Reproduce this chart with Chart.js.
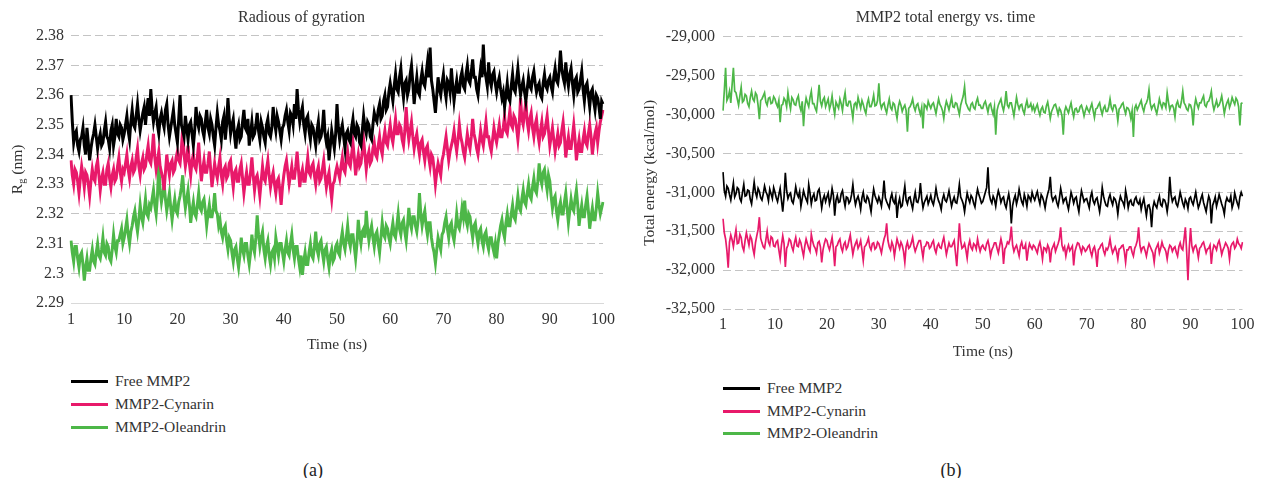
<!DOCTYPE html>
<html>
<head>
<meta charset="utf-8">
<script src="https://cdn.jsdelivr.net/npm/chart.js@4.4.1/dist/chart.umd.min.js"></script>
<style>
body { margin: 0; background: #fff; font-family: 'Liberation Serif', 'Times New Roman', serif; color: #333; }
#page { position: relative; width: 1261px; height: 478px; overflow: hidden; }
canvas { position: absolute; top: 0; }
#chartA { left: 0; }
#chartB { left: 640px; }
.legend-text { position: absolute; font-family: 'Liberation Serif', serif; font-size: 15.5px; line-height: 20px; white-space: nowrap; color: #333; }
.legend-line { position: absolute; height: 3px; width: 37px; }
.caption { position: absolute; width: 40px; text-align: center; font-family: 'Liberation Serif', serif; font-size: 18px; line-height: 22px; color: #222; }
</style>
</head>
<body>
<div id="page">
  <canvas id="chartA" width="640" height="360"></canvas>
  <canvas id="chartB" width="621" height="370"></canvas>
</div>
<script>
// time axis: 0.25 ns sampling, first category shown as "1" like the original
const time = Array.from({length: 401}, (_, i) => i / 4);
const xTickLabels = ['1', '10', '20', '30', '40', '50', '60', '70', '80', '90', '100'];

const seriesNames = ['Free MMP2', 'MMP2-Cynarin', 'MMP2-Oleandrin'];
const seriesColors = ['#000000', '#E8196A', '#4DB748'];

// (a) radius of gyration, nm
const rgFree = [
  2.360, 2.351, 2.344, 2.347, 2.348, 2.343, 2.341, 2.345, 2.346, 2.349, 2.343, 2.340, 2.349, 2.344, 2.338, 2.342, 2.345, 2.347, 2.350, 2.346,
  2.342, 2.345, 2.347, 2.343, 2.344, 2.348, 2.351, 2.346, 2.345, 2.342, 2.348, 2.350, 2.343, 2.346, 2.352, 2.347, 2.346, 2.350, 2.349, 2.345,
  2.347, 2.350, 2.353, 2.348, 2.345, 2.351, 2.355, 2.350, 2.349, 2.353, 2.357, 2.352, 2.348, 2.351, 2.354, 2.356, 2.350, 2.355, 2.359, 2.353,
  2.362, 2.355, 2.351, 2.354, 2.356, 2.350, 2.347, 2.352, 2.354, 2.351, 2.349, 2.355, 2.357, 2.350, 2.346, 2.349, 2.352, 2.355, 2.350, 2.347,
  2.344, 2.352, 2.360, 2.350, 2.348, 2.346, 2.353, 2.349, 2.345, 2.350, 2.351, 2.347, 2.343, 2.348, 2.356, 2.351, 2.349, 2.353, 2.352, 2.348,
  2.346, 2.351, 2.355, 2.349, 2.347, 2.352, 2.350, 2.346, 2.343, 2.349, 2.354, 2.350, 2.348, 2.345, 2.351, 2.353, 2.345, 2.350, 2.359, 2.352,
  2.347, 2.350, 2.352, 2.346, 2.342, 2.348, 2.350, 2.345, 2.346, 2.351, 2.355, 2.349, 2.348, 2.352, 2.343, 2.347, 2.351, 2.346, 2.347, 2.350,
  2.354, 2.348, 2.345, 2.351, 2.349, 2.346, 2.344, 2.350, 2.352, 2.347, 2.346, 2.349, 2.356, 2.351, 2.348, 2.353, 2.351, 2.348, 2.345, 2.349,
  2.350, 2.353, 2.355, 2.351, 2.348, 2.354, 2.353, 2.350, 2.357, 2.352, 2.362, 2.355, 2.351, 2.354, 2.356, 2.350, 2.347, 2.352, 2.353, 2.348,
  2.345, 2.350, 2.349, 2.346, 2.343, 2.348, 2.351, 2.345, 2.346, 2.349, 2.355, 2.347, 2.344, 2.346, 2.338, 2.343, 2.348, 2.345, 2.342, 2.347,
  2.357, 2.349, 2.345, 2.348, 2.350, 2.346, 2.342, 2.347, 2.348, 2.345, 2.344, 2.349, 2.352, 2.347, 2.346, 2.350, 2.349, 2.344, 2.343, 2.348,
  2.353, 2.349, 2.347, 2.351, 2.350, 2.346, 2.345, 2.350, 2.354, 2.352, 2.351, 2.355, 2.357, 2.352, 2.353, 2.358, 2.360, 2.355, 2.356, 2.361,
  2.364, 2.361, 2.358, 2.363, 2.367, 2.362, 2.361, 2.366, 2.369, 2.363, 2.359, 2.364, 2.365, 2.360, 2.362, 2.367, 2.370, 2.364, 2.357, 2.362,
  2.366, 2.361, 2.360, 2.365, 2.368, 2.364, 2.363, 2.367, 2.371, 2.366, 2.376, 2.365, 2.362, 2.358, 2.354, 2.360, 2.366, 2.362, 2.360, 2.364,
  2.367, 2.362, 2.359, 2.365, 2.364, 2.361, 2.369, 2.363, 2.358, 2.362, 2.365, 2.361, 2.361, 2.366, 2.368, 2.363, 2.362, 2.367, 2.370, 2.365,
  2.364, 2.368, 2.372, 2.366, 2.366, 2.362, 2.360, 2.365, 2.369, 2.366, 2.377, 2.368, 2.366, 2.363, 2.371, 2.365, 2.363, 2.367, 2.368, 2.364,
  2.361, 2.364, 2.366, 2.362, 2.359, 2.361, 2.356, 2.360, 2.364, 2.359, 2.358, 2.363, 2.367, 2.362, 2.361, 2.365, 2.369, 2.364, 2.360, 2.363,
  2.365, 2.361, 2.358, 2.362, 2.366, 2.363, 2.362, 2.366, 2.368, 2.364, 2.361, 2.363, 2.364, 2.360, 2.359, 2.364, 2.367, 2.363, 2.362, 2.365,
  2.366, 2.363, 2.361, 2.366, 2.369, 2.365, 2.364, 2.368, 2.375, 2.369, 2.366, 2.364, 2.371, 2.366, 2.363, 2.367, 2.369, 2.364, 2.360, 2.365,
  2.366, 2.361, 2.362, 2.365, 2.368, 2.362, 2.358, 2.363, 2.364, 2.360, 2.356, 2.361, 2.362, 2.358, 2.355, 2.360, 2.359, 2.356, 2.352, 2.358,
  2.357
];
const rgCynarin = [
  2.338, 2.333, 2.330, 2.335, 2.334, 2.331, 2.327, 2.332, 2.336, 2.333, 2.329, 2.334, 2.333, 2.330, 2.326, 2.331, 2.335, 2.332, 2.331, 2.336,
  2.338, 2.333, 2.328, 2.332, 2.334, 2.330, 2.330, 2.335, 2.337, 2.332, 2.329, 2.333, 2.335, 2.331, 2.332, 2.336, 2.339, 2.334, 2.331, 2.335,
  2.334, 2.337, 2.340, 2.335, 2.332, 2.336, 2.338, 2.334, 2.335, 2.339, 2.342, 2.336, 2.333, 2.337, 2.339, 2.335, 2.336, 2.340, 2.343, 2.338,
  2.337, 2.341, 2.347, 2.339, 2.335, 2.338, 2.341, 2.336, 2.334, 2.332, 2.328, 2.334, 2.340, 2.336, 2.333, 2.337, 2.338, 2.334, 2.335, 2.339,
  2.341, 2.338, 2.337, 2.342, 2.349, 2.340, 2.336, 2.339, 2.343, 2.337, 2.333, 2.338, 2.340, 2.336, 2.335, 2.339, 2.344, 2.337, 2.331, 2.335,
  2.338, 2.334, 2.334, 2.337, 2.341, 2.335, 2.329, 2.333, 2.337, 2.334, 2.332, 2.336, 2.339, 2.333, 2.330, 2.335, 2.336, 2.332, 2.333, 2.337,
  2.338, 2.333, 2.329, 2.334, 2.335, 2.331, 2.331, 2.335, 2.337, 2.332, 2.327, 2.331, 2.334, 2.330, 2.330, 2.334, 2.339, 2.333, 2.328, 2.332,
  2.333, 2.330, 2.326, 2.331, 2.336, 2.332, 2.331, 2.335, 2.338, 2.333, 2.329, 2.332, 2.334, 2.330, 2.327, 2.331, 2.332, 2.328, 2.323, 2.329,
  2.333, 2.336, 2.338, 2.334, 2.330, 2.333, 2.336, 2.332, 2.332, 2.336, 2.341, 2.335, 2.329, 2.333, 2.335, 2.331, 2.331, 2.335, 2.339, 2.334,
  2.333, 2.336, 2.337, 2.333, 2.330, 2.334, 2.336, 2.331, 2.332, 2.335, 2.338, 2.333, 2.329, 2.332, 2.334, 2.329, 2.325, 2.330, 2.331, 2.334,
  2.336, 2.334, 2.332, 2.336, 2.339, 2.335, 2.334, 2.338, 2.341, 2.337, 2.336, 2.340, 2.344, 2.339, 2.333, 2.337, 2.340, 2.336, 2.337, 2.341,
  2.345, 2.340, 2.335, 2.339, 2.341, 2.337, 2.338, 2.342, 2.344, 2.340, 2.339, 2.343, 2.346, 2.342, 2.340, 2.345, 2.348, 2.344, 2.343, 2.347,
  2.350, 2.346, 2.344, 2.348, 2.352, 2.347, 2.347, 2.350, 2.349, 2.345, 2.343, 2.348, 2.356, 2.349, 2.345, 2.348, 2.351, 2.346, 2.342, 2.345,
  2.347, 2.343, 2.340, 2.344, 2.345, 2.341, 2.338, 2.342, 2.343, 2.339, 2.336, 2.340, 2.339, 2.335, 2.330, 2.334, 2.337, 2.335, 2.333, 2.338,
  2.340, 2.343, 2.346, 2.342, 2.338, 2.341, 2.343, 2.345, 2.348, 2.344, 2.341, 2.345, 2.350, 2.346, 2.344, 2.341, 2.339, 2.343, 2.347, 2.344,
  2.342, 2.346, 2.352, 2.347, 2.345, 2.342, 2.340, 2.344, 2.348, 2.345, 2.343, 2.347, 2.351, 2.346, 2.346, 2.343, 2.341, 2.345, 2.349, 2.346,
  2.344, 2.347, 2.350, 2.346, 2.346, 2.349, 2.353, 2.348, 2.347, 2.351, 2.355, 2.350, 2.349, 2.353, 2.352, 2.349, 2.345, 2.350, 2.359, 2.352,
  2.350, 2.354, 2.358, 2.351, 2.348, 2.352, 2.354, 2.349, 2.346, 2.350, 2.352, 2.347, 2.344, 2.348, 2.351, 2.346, 2.347, 2.350, 2.353, 2.348,
  2.343, 2.346, 2.349, 2.345, 2.341, 2.344, 2.347, 2.343, 2.344, 2.348, 2.351, 2.346, 2.339, 2.343, 2.346, 2.342, 2.342, 2.346, 2.350, 2.345,
  2.338, 2.342, 2.345, 2.341, 2.341, 2.345, 2.348, 2.344, 2.343, 2.347, 2.350, 2.346, 2.340, 2.344, 2.347, 2.349, 2.344, 2.348, 2.351, 2.353,
  2.355
];
const rgOleandrin = [
  2.311, 2.307, 2.304, 2.309, 2.309, 2.305, 2.302, 2.306, 2.307, 2.303, 2.2975, 2.302, 2.305, 2.301, 2.301, 2.305, 2.308, 2.304, 2.303, 2.307,
  2.310, 2.306, 2.305, 2.308, 2.312, 2.307, 2.306, 2.310, 2.309, 2.305, 2.304, 2.308, 2.313, 2.309, 2.307, 2.311, 2.311, 2.313, 2.315, 2.310,
  2.312, 2.315, 2.318, 2.313, 2.310, 2.314, 2.316, 2.319, 2.321, 2.317, 2.314, 2.318, 2.323, 2.319, 2.317, 2.321, 2.325, 2.320, 2.319, 2.323,
  2.322, 2.325, 2.328, 2.323, 2.320, 2.326, 2.337, 2.328, 2.324, 2.327, 2.330, 2.325, 2.321, 2.324, 2.327, 2.322, 2.318, 2.322, 2.325, 2.321,
  2.320, 2.324, 2.326, 2.329, 2.333, 2.326, 2.322, 2.325, 2.328, 2.323, 2.317, 2.321, 2.324, 2.320, 2.319, 2.323, 2.327, 2.322, 2.321, 2.324,
  2.325, 2.321, 2.316, 2.320, 2.323, 2.319, 2.319, 2.322, 2.327, 2.321, 2.320, 2.316, 2.318, 2.314, 2.312, 2.315, 2.316, 2.311, 2.308, 2.312,
  2.311, 2.307, 2.304, 2.308, 2.309, 2.305, 2.302, 2.306, 2.312, 2.308, 2.306, 2.310, 2.310, 2.306, 2.303, 2.307, 2.313, 2.309, 2.307, 2.312,
  2.3195, 2.313, 2.309, 2.312, 2.314, 2.308, 2.305, 2.309, 2.311, 2.306, 2.303, 2.307, 2.308, 2.305, 2.312, 2.309, 2.306, 2.310, 2.310, 2.307,
  2.304, 2.308, 2.311, 2.307, 2.306, 2.310, 2.313, 2.308, 2.305, 2.309, 2.309, 2.305, 2.302, 2.306, 2.2995, 2.304, 2.307, 2.303, 2.303, 2.307,
  2.310, 2.306, 2.305, 2.309, 2.314, 2.308, 2.306, 2.310, 2.311, 2.307, 2.304, 2.308, 2.309, 2.305, 2.302, 2.306, 2.308, 2.304, 2.305, 2.309,
  2.310, 2.307, 2.306, 2.311, 2.314, 2.310, 2.308, 2.312, 2.316, 2.311, 2.309, 2.313, 2.313, 2.309, 2.305, 2.310, 2.318, 2.313, 2.310, 2.314,
  2.315, 2.312, 2.321, 2.315, 2.311, 2.314, 2.316, 2.312, 2.309, 2.313, 2.314, 2.310, 2.307, 2.312, 2.317, 2.313, 2.312, 2.316, 2.315, 2.312,
  2.310, 2.314, 2.317, 2.313, 2.312, 2.316, 2.320, 2.315, 2.313, 2.317, 2.318, 2.314, 2.311, 2.316, 2.322, 2.317, 2.315, 2.319, 2.319, 2.316,
  2.314, 2.318, 2.327, 2.320, 2.316, 2.319, 2.321, 2.316, 2.313, 2.317, 2.317, 2.312, 2.309, 2.307, 2.3035, 2.308, 2.312, 2.310, 2.308, 2.313,
  2.314, 2.317, 2.319, 2.315, 2.312, 2.316, 2.317, 2.313, 2.311, 2.315, 2.320, 2.316, 2.315, 2.318, 2.322, 2.319, 2.3245, 2.318, 2.316, 2.320,
  2.319, 2.315, 2.312, 2.316, 2.317, 2.313, 2.310, 2.314, 2.315, 2.311, 2.309, 2.313, 2.314, 2.310, 2.308, 2.312, 2.312, 2.309, 2.307, 2.310,
  2.305, 2.310, 2.313, 2.316, 2.318, 2.314, 2.312, 2.317, 2.320, 2.316, 2.316, 2.320, 2.323, 2.319, 2.318, 2.322, 2.326, 2.322, 2.321, 2.325,
  2.328, 2.324, 2.323, 2.327, 2.330, 2.326, 2.325, 2.329, 2.332, 2.328, 2.327, 2.331, 2.337, 2.332, 2.330, 2.334, 2.335, 2.331, 2.328, 2.333,
  2.331, 2.326, 2.322, 2.325, 2.326, 2.321, 2.318, 2.322, 2.324, 2.320, 2.320, 2.324, 2.327, 2.322, 2.317, 2.321, 2.325, 2.322, 2.321, 2.325,
  2.328, 2.323, 2.316, 2.320, 2.323, 2.319, 2.319, 2.323, 2.326, 2.321, 2.315, 2.319, 2.322, 2.318, 2.318, 2.322, 2.327, 2.323, 2.320, 2.322,
  2.324
];
const rgTicks = [2.29, 2.3, 2.31, 2.32, 2.33, 2.34, 2.35, 2.36, 2.37, 2.38];

// (b) total energy, kcal/mol
const enFree = [
  -30740, -30980, -31050, -30920, -30950, -31030, -31100, -30990, -30880, -31060, -31020, -30940, -30960, -31080, -31120, -31000, -30900, -31050, -31040, -30970,
  -30980, -31090, -31150, -31010, -30870, -31000, -31060, -30950, -30990, -31070, -31100, -31020, -30920, -30990, -31030, -31110, -30960, -31020, -31080, -30940,
  -31000, -31070, -31120, -31030, -30950, -31100, -31250, -31060, -30750, -30980, -31080, -31030, -31010, -31110, -31140, -31050, -30930, -31020, -31060, -30990,
  -31180, -31080, -30980, -31040, -31090, -31130, -30900, -31010, -31150, -31060, -31020, -31110, -31100, -30990, -30960, -31070, -31200, -31090, -31040, -31120,
  -31060, -31010, -31150, -31080, -30950, -31040, -31300, -31100, -31040, -31130, -31120, -31020, -30980, -31090, -31180, -31060, -31070, -31140, -31110, -31030,
  -30900, -31060, -31160, -31090, -31050, -31120, -31220, -31070, -31000, -31110, -31130, -31050, -31080, -31160, -31250, -31090, -30960, -31040, -31090, -31130,
  -31060, -31110, -31180, -31050, -30850, -31070, -31120, -31160, -31200, -31080, -31020, -31110, -31140, -31060, -31330, -31150, -31080, -31190, -31170, -31040,
  -30920, -31100, -31150, -31070, -31060, -31140, -31210, -31090, -31000, -31120, -31130, -31060, -30880, -31080, -31200, -31130, -31090, -31050, -31150, -31100,
  -31040, -31120, -31160, -31070, -30950, -31050, -31110, -31150, -31220, -31090, -31030, -31100, -31120, -31060, -30980, -31080, -31180, -31110, -31060, -31130,
  -31140, -31040, -30900, -31060, -31100, -31150, -31250, -31120, -31010, -31080, -31130, -31040, -31070, -31140, -31190, -31060, -30960, -31030, -31080, -31140,
  -31120, -31060, -31000, -30940, -30680, -31020, -31100, -31140, -31050, -31090, -31180, -31060, -30980, -31040, -31130, -31080, -31060, -31150, -31200, -31100,
  -31020, -31130, -31400, -31170, -31090, -31040, -31150, -31080, -30960, -31050, -31120, -31160, -31030, -31090, -31180, -31040, -31070, -31110, -31000, -31060,
  -31100, -31040, -30990, -31080, -31150, -31030, -31060, -31120, -31200, -31090, -31020, -30960, -30800, -31050, -31110, -31070, -31050, -31130, -31180, -31080,
  -30950, -31040, -31130, -31090, -31070, -31150, -31220, -31110, -31000, -31060, -31140, -31080, -31060, -31170, -31250, -31100, -30980, -31050, -31120, -31090,
  -31080, -31140, -31200, -31060, -31000, -31110, -31150, -31090, -31070, -31160, -31250, -31120, -30940, -31050, -31120, -31170, -31180, -31080, -31030, -31110,
  -31160, -31070, -31090, -31150, -31280, -31130, -31050, -31100, -31130, -31180, -30980, -31070, -31200, -31120, -31100, -31160, -31170, -31090, -31060, -31130,
  -31150, -31100, -31220, -31140, -31080, -31190, -31300, -31170, -31160, -31230, -31450, -31200, -31120, -31170, -31200, -31110, -31050, -31160, -31180, -31090,
  -31100, -31150, -31250, -31120, -30800, -31030, -31120, -31080, -31060, -31150, -31180, -31100, -31000, -31070, -31140, -31190, -31090, -31130, -31210, -31080,
  -31060, -31120, -31160, -31080, -31000, -31110, -31200, -31150, -31080, -31030, -31130, -31190, -31250, -31140, -31050, -31100, -31400, -31170, -31120, -31060,
  -31180, -31110, -31030, -31090, -31150, -31200, -31280, -31130, -31070, -31110, -31120, -31050, -31200, -31140, -31010, -31080, -31140, -31190, -31060, -31000,
  -31050
];
const enCynarin = [
  -31340, -31520, -31600, -31750, -31970, -31640, -31550, -31610, -31700, -31580, -31480, -31660, -31650, -31540, -31580, -31700, -31750, -31620, -31520, -31600,
  -31680, -31560, -31600, -31720, -31800, -31650, -31560, -31480, -31320, -31590, -31650, -31700, -31720, -31610, -31500, -31640, -31680, -31570, -31590, -31690,
  -31700, -31640, -31620, -31740, -31850, -31680, -31560, -31660, -31960, -31720, -31680, -31600, -31620, -31700, -31750, -31650, -31580, -31690, -31700, -31610,
  -31650, -31740, -31820, -31690, -31600, -31660, -31720, -31760, -31540, -31630, -31690, -31720, -31780, -31650, -31630, -31700, -31900, -31740, -31660, -31600,
  -31620, -31690, -31740, -31660, -31580, -31720, -31950, -31700, -31680, -31630, -31600, -31710, -31760, -31670, -31640, -31730, -31700, -31620, -31550, -31680,
  -31800, -31710, -31660, -31620, -31720, -31680, -31620, -31740, -31880, -31700, -31680, -31640, -31590, -31700, -31740, -31660, -31650, -31730, -31710, -31640,
  -31660, -31720, -31780, -31680, -31600, -31550, -31400, -31620, -31700, -31740, -31640, -31690, -31820, -31700, -31600, -31660, -31720, -31640, -31680, -31760,
  -31900, -31700, -31640, -31720, -31700, -31650, -31580, -31690, -31760, -31710, -31660, -31620, -31620, -31730, -31840, -31700, -31690, -31640, -31650, -31720,
  -31700, -31650, -31620, -31730, -31780, -31690, -31660, -31710, -31720, -31640, -31580, -31690, -31800, -31720, -31650, -31700, -31700, -31660, -31620, -31780,
  -31950, -31680, -31400, -31620, -31720, -31700, -31660, -31740, -31850, -31690, -31620, -31710, -31740, -31660, -31680, -31730, -31600, -31690, -31760, -31700,
  -31680, -31720, -31740, -31660, -31620, -31700, -31820, -31740, -31700, -31650, -31650, -31720, -31780, -31690, -31600, -31680, -31920, -31730, -31700, -31640,
  -31660, -31600, -31440, -31680, -31760, -31710, -31680, -31750, -31820, -31690, -31640, -31720, -31720, -31670, -31880, -31740, -31660, -31700, -31730, -31680,
  -31700, -31740, -31780, -31690, -31640, -31730, -31860, -31710, -31720, -31760, -31680, -31720, -31900, -31740, -31700, -31660, -31760, -31710, -31660, -31600,
  -31450, -31680, -31740, -31700, -31820, -31730, -31680, -31750, -31720, -31690, -31940, -31760, -31700, -31650, -31660, -31720, -31780, -31700, -31720, -31760,
  -31740, -31700, -31680, -31760, -31820, -31730, -31700, -31780, -31960, -31740, -31720, -31680, -31660, -31750, -31800, -31720, -31740, -31690, -31600, -31710,
  -31780, -31740, -31700, -31760, -31860, -31730, -31720, -31690, -31680, -31760, -31900, -31740, -31740, -31700, -31700, -31770, -31820, -31720, -31680, -31620,
  -31450, -31680, -31760, -31710, -31700, -31750, -31820, -31730, -31660, -31700, -31740, -31780, -31900, -31740, -31700, -31660, -31780, -31720, -31640, -31700,
  -31720, -31760, -31860, -31740, -31680, -31700, -31760, -31720, -31700, -31770, -31820, -31700, -31650, -31720, -31740, -31600, -31450, -31760, -32130, -31720,
  -31460, -31690, -31760, -31700, -31680, -31740, -31840, -31720, -31700, -31660, -31640, -31710, -31780, -31730, -31720, -31680, -31920, -31750, -31680, -31700,
  -31740, -31660, -31620, -31700, -31800, -31740, -31700, -31650, -31680, -31720, -31860, -31700, -31660, -31640, -31720, -31690, -31600, -31660, -31680, -31720,
  -31640
];
const enOleandrin = [
  -29950, -29700, -29400, -29820, -29780, -29700, -29850, -29620, -29400, -29700, -29720, -29800, -29880, -29760, -29650, -29840, -29820, -29740, -29760, -29860,
  -29900, -29780, -29700, -29800, -29830, -29720, -29750, -29880, -30060, -29820, -29800, -29760, -29720, -29840, -29880, -29790, -29780, -29860, -29850, -29770,
  -29800, -29860, -29900, -29820, -30100, -29880, -29870, -29790, -29820, -29900, -29720, -29840, -29930, -29780, -29810, -29870, -29880, -29800, -29760, -29890,
  -29950, -29830, -30150, -29900, -29790, -29850, -29900, -29780, -29700, -29860, -29860, -29920, -29960, -29800, -29620, -29830, -29890, -29810, -29780, -29900,
  -29850, -29800, -29930, -29870, -29760, -29900, -30000, -29840, -29880, -29920, -29800, -29860, -29950, -29810, -29720, -29880, -29890, -29830, -29830, -29930,
  -30050, -29870, -29850, -29910, -29780, -29850, -29920, -29820, -29870, -29940, -29990, -29860, -29800, -29900, -29900, -29840, -29750, -29890, -29880, -29820,
  -29600, -29850, -29920, -29870, -29850, -29930, -29980, -29880, -29800, -29910, -29940, -29850, -29870, -29960, -30050, -29900, -29830, -29880, -29960, -29910,
  -29880, -29950, -30220, -29920, -29900, -29860, -29800, -29900, -29950, -29880, -29860, -29940, -30000, -29910, -30180, -29870, -29890, -29930, -29830, -29880,
  -29920, -29870, -29850, -29920, -29990, -29890, -29800, -29870, -29900, -29950, -30050, -29910, -29830, -29880, -29940, -29860, -29780, -29900, -29910, -29850,
  -29860, -29930, -30000, -29880, -29820, -29760, -29640, -29850, -29890, -29930, -29950, -29870, -29850, -29910, -29930, -29840, -29790, -29880, -29880, -29920,
  -29920, -29860, -29830, -29900, -29970, -29880, -29860, -29940, -30000, -29900, -30260, -29950, -29880, -29840, -29800, -29890, -29950, -29860, -29700, -29880,
  -29910, -29850, -29850, -29930, -30020, -29900, -29780, -29870, -29930, -29880, -29870, -29950, -29990, -29890, -29820, -29910, -29900, -29860, -29940, -29890,
  -29960, -29910, -29870, -29950, -30010, -29930, -29900, -29970, -29980, -29890, -29840, -29940, -30050, -29960, -29920, -29880, -29870, -29930, -30000, -29920,
  -29950, -30020, -30260, -29960, -29900, -29940, -29980, -29910, -29850, -29950, -30030, -29930, -29920, -29970, -29960, -29900, -29880, -29940, -30020, -29950,
  -29900, -29940, -29970, -29910, -29860, -29950, -30040, -29930, -29920, -29880, -29850, -29940, -30000, -29920, -29890, -29960, -29960, -29900, -29800, -29910,
  -29950, -29880, -29880, -29940, -30080, -29930, -29910, -29870, -29850, -29930, -29990, -29910, -29920, -29960, -30050, -29950, -30290, -29920, -29880, -29940,
  -29900, -29860, -29820, -29910, -29960, -29880, -29850, -29800, -29680, -29860, -29930, -29890, -29870, -29940, -29990, -29900, -29800, -29870, -29920, -29850,
  -29860, -29910, -29720, -29840, -29940, -29890, -29880, -29920, -30030, -29870, -29830, -29900, -29910, -29830, -29700, -29850, -29880, -29930, -29950, -29870,
  -29880, -29940, -30140, -29900, -29800, -29870, -29920, -29850, -29850, -29800, -29760, -29880, -29900, -29840, -29830, -29780, -29700, -29860, -29940, -29880,
  -29820, -29900, -29880, -29830, -29760, -29870, -29990, -29900, -29850, -29810, -29910, -29860, -29780, -29830, -29870, -29790, -29820, -29900, -30140, -29860,
  -29850
];
const enTicks = [-32500, -32000, -31500, -31000, -30500, -30000, -29500, -29000];

const fontFamily = "'Liberation Serif', 'Times New Roman', serif";
const textColor = '#333333';

// draws "Rg (nm)" with a subscript g, rotated, left of the axis
const subscriptTitle = {
    id: 'subscriptTitle',
    afterDraw(chart, args, opts) {
        if (!opts.text) return;
        const ctx = chart.ctx;
        const area = chart.chartArea;
        const big = '15.5px ' + fontFamily;
        const small = '10.5px ' + fontFamily;
        ctx.save();
        ctx.font = big;
        const w1 = ctx.measureText(opts.text[0]).width;
        const w3 = ctx.measureText(opts.text[2]).width;
        ctx.font = small;
        const w2 = ctx.measureText(opts.text[1]).width;
        const total = w1 + w2 + w3;
        ctx.translate(opts.x, (area.top + area.bottom) / 2);
        ctx.rotate(-Math.PI / 2);
        ctx.fillStyle = textColor;
        ctx.textBaseline = 'middle';
        ctx.textAlign = 'left';
        let x = -total / 2;
        ctx.font = big;
        ctx.fillText(opts.text[0], x, 0);
        x += w1;
        ctx.font = small;
        ctx.fillText(opts.text[1], x, 4);
        x += w2;
        ctx.font = big;
        ctx.fillText(opts.text[2], x, 0);
        ctx.restore();
    }
};

function makeDatasets(values, width) {
    return values.map((v, i) => ({
        label: seriesNames[i],
        data: v,
        borderColor: seriesColors[i],
        backgroundColor: seriesColors[i],
        borderWidth: width,
        pointRadius: 0,
        tension: 0,
        fill: false
    }));
}

function xScale(tickPad, titlePadBottom, height) {
    return {
        type: 'category',
        grid: { display: false, drawTicks: false },
        border: { display: false },
        ticks: {
            autoSkip: false,
            maxRotation: 0,
            padding: tickPad,
            color: textColor,
            font: { family: fontFamily, size: 16 },
            callback: (val, index) => (time[index] % 10 === 0 ? xTickLabels[time[index] / 10] : '')
        },
        title: {
            display: true,
            text: 'Time (ns)',
            color: textColor,
            font: { family: fontFamily, size: 15.5 },
            padding: { top: 0, bottom: titlePadBottom }
        },
        afterFit: (s) => { s.height = height; }
    };
}

new Chart(document.getElementById('chartA'), {
    type: 'line',
    data: {
        labels: time,
        datasets: makeDatasets([rgFree, rgCynarin, rgOleandrin], 3)
    },
    plugins: [subscriptTitle],
    options: {
        responsive: false,
        animation: false,
        events: [],
        layout: { padding: { left: 0, right: 37, top: 0, bottom: 0 } },
        plugins: {
            legend: { display: false },
            tooltip: { enabled: false },
            title: {
                display: true,
                text: 'Radious of gyration',
                color: textColor,
                font: { family: fontFamily, size: 16, weight: 'normal' },
                padding: { top: 8, bottom: 8.5 }
            },
            subscriptTitle: { text: ['R', 'g', ' (nm)'], x: 18 }
        },
        scales: {
            x: Object.assign(xScale(7.5, 5.5, 57), {
                border: { display: true, color: '#d9d9d9', width: 1 }
            }),
            y: {
                min: 2.29,
                max: 2.38,
                afterBuildTicks: (s) => { s.ticks = rgTicks.map(v => ({ value: v })); },
                grid: { color: '#c4c4c4', drawTicks: false },
                border: { display: false, dash: [8, 4] },
                ticks: {
                    padding: 7,
                    color: textColor,
                    font: { family: fontFamily, size: 16 },
                    callback: (v) => String(Number(v.toFixed(2)))
                },
                afterFit: (s) => { s.width = 71; }
            }
        }
    }
});

new Chart(document.getElementById('chartB'), {
    type: 'line',
    data: {
        labels: time,
        datasets: makeDatasets([enFree, enCynarin, enOleandrin], 1.7)
    },
    options: {
        responsive: false,
        animation: false,
        events: [],
        layout: { padding: { left: 0, right: 10, top: 0, bottom: 0 } },
        plugins: {
            legend: { display: false },
            tooltip: { enabled: false },
            title: {
                display: true,
                text: 'MMP2 total energy vs. time',
                color: textColor,
                font: { family: fontFamily, size: 16, weight: 'normal' },
                padding: { top: 8, bottom: 9.5 }
            }
        },
        scales: {
            x: xScale(6.5, 8.5, 61),
            y: {
                min: -32500,
                max: -29000,
                afterBuildTicks: (s) => { s.ticks = enTicks.map(v => ({ value: v })); },
                grid: { color: '#c4c4c4', drawTicks: false },
                border: { display: false, dash: [8, 4] },
                ticks: {
                    padding: 8,
                    color: textColor,
                    font: { family: fontFamily, size: 16 },
                    callback: (v) => v.toLocaleString('en-US')
                },
                title: {
                    display: true,
                    text: 'Total energy (kcal/mol)',
                    color: textColor,
                    font: { family: fontFamily, size: 15.5 },
                    padding: { top: 1, bottom: 0 }
                },
                afterFit: (s) => { s.width = 83; }
            }
        }
    }
});

// legends and panel captions
const page = document.getElementById('page');
const legends = [
    { left: 71, rows: [381, 404, 427] },
    { left: 723, rows: [388, 411, 433] }
];
for (const lg of legends) {
    seriesNames.forEach((name, i) => {
        const line = document.createElement('div');
        line.classList.add('legend-line');
        line.style.left = lg.left + 'px';
        line.style.top = (lg.rows[i] - 1.5) + 'px';
        line.style.background = seriesColors[i];
        const label = document.createElement('div');
        label.classList.add('legend-text');
        label.style.left = (lg.left + 44) + 'px';
        label.style.top = (lg.rows[i] - 10) + 'px';
        label.textContent = name;
        page.append(line, label);
    });
}
const captions = [['(a)', 293], ['(b)', 931]];
for (const [text, left] of captions) {
    const cap = document.createElement('div');
    cap.classList.add('caption');
    cap.style.left = left + 'px';
    cap.style.top = '459px';
    cap.textContent = text;
    page.append(cap);
}
</script>
</body>
</html>
